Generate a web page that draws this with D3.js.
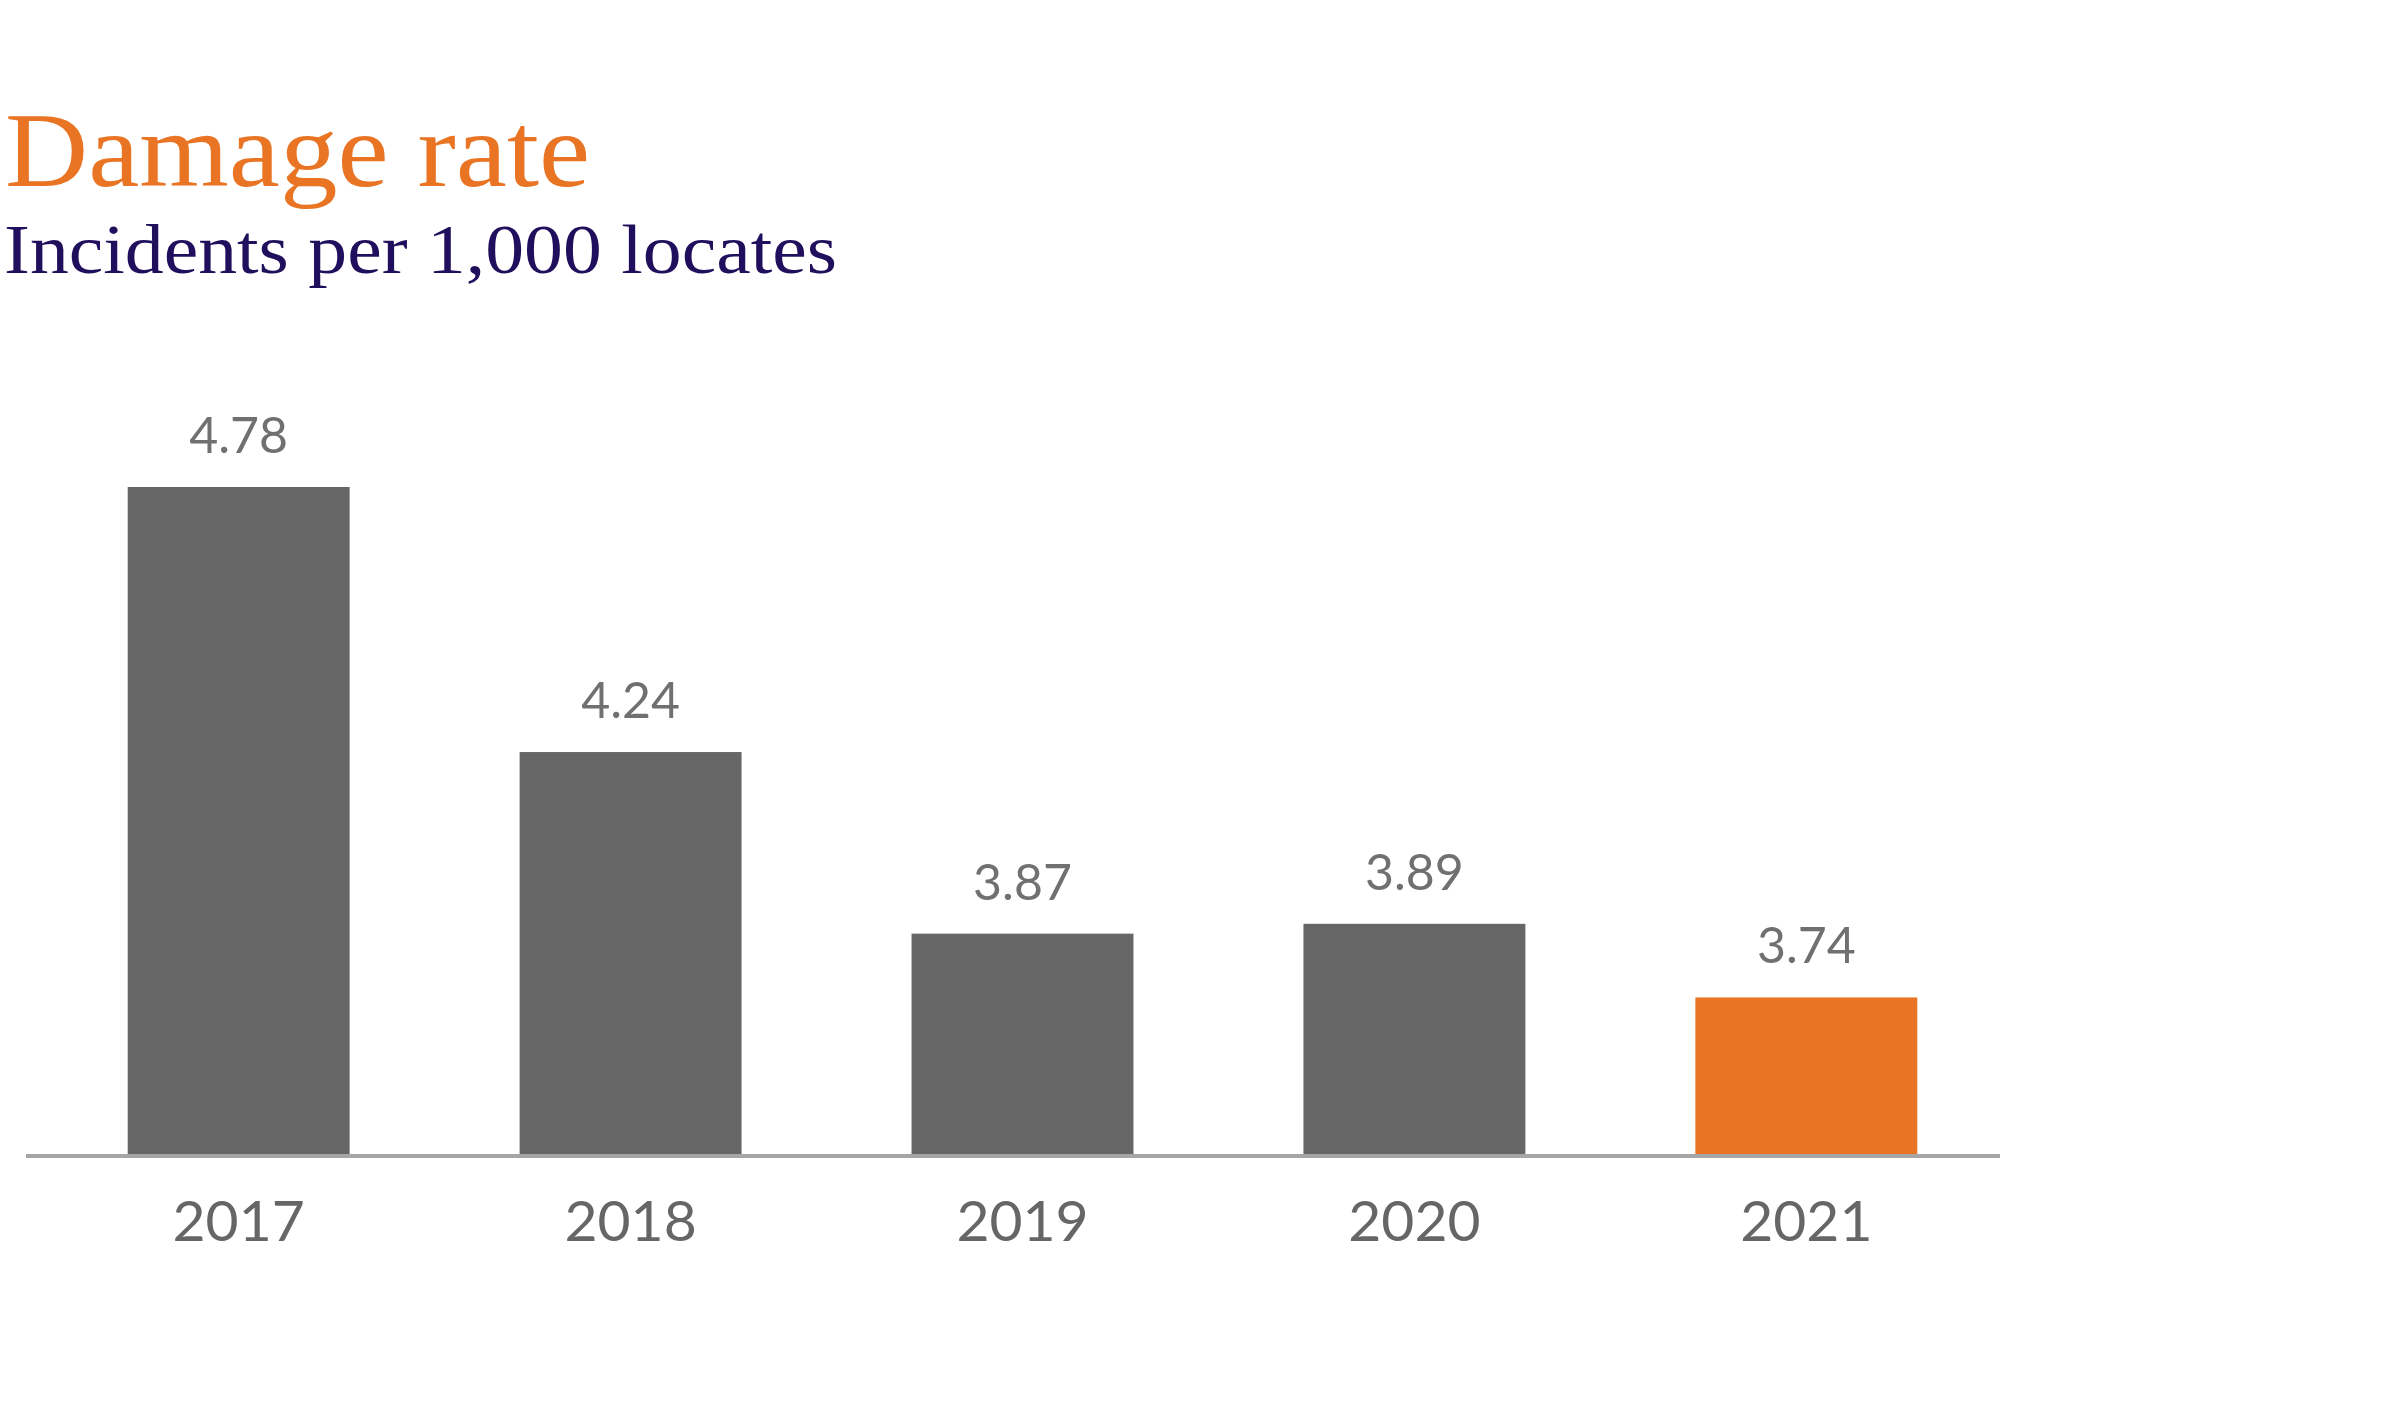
<!DOCTYPE html>
<html>
<head>
<meta charset="utf-8">
<script src="https://cdn.jsdelivr.net/npm/d3@7"></script>
<style>
  html, body { margin: 0; padding: 0; background: #ffffff; }
  svg { display: block; }
</style>
</head>
<body>
<svg id="chart" width="2397" height="1418"></svg>
<script>
const categories = ["2017", "2018", "2019", "2020", "2021"];
const values = [4.78, 4.24, 3.87, 3.89, 3.74];
const highlight = ["2021"];
const titleText = "Damage rate";
const subtitleText = "Incidents per 1,000 locates";

const svg = d3.select("#chart");
const W = 2397, H = 1418;
const baseY = 1155;

svg.append("rect").attr("width", W).attr("height", H).attr("fill", "#ffffff");

// Title & subtitle
svg.append("text")
  .attr("x", 5).attr("y", 186)
  .attr("font-family", "'Liberation Serif', 'DejaVu Serif', serif")
  .attr("font-size", 106)
  .attr("fill", "#E87424")
  .attr("textLength", 585)
  .attr("lengthAdjust", "spacingAndGlyphs")
  .text(titleText);

svg.append("text")
  .attr("x", 4).attr("y", 273)
  .attr("font-family", "'Liberation Serif', 'DejaVu Serif', serif")
  .attr("font-size", 70)
  .attr("fill", "#200F5C")
  .attr("textLength", 833)
  .attr("lengthAdjust", "spacingAndGlyphs")
  .text(subtitleText);

// Scales
const x = d3.scaleBand()
  .domain(categories)
  .range([36, 2009])
  .paddingInner(0.4337)
  .paddingOuter(0.234);

const y = d3.scaleLinear()
  .domain([3.419, 4.78])
  .range([baseY, 487]);

const data = categories.map((c, i) => ({ cat: c, val: values[i] }));

// Bars
svg.append("g").selectAll("rect")
  .data(data)
  .join("rect")
  .attr("x", d => x(d.cat))
  .attr("y", d => y(d.val))
  .attr("width", x.bandwidth())
  .attr("height", d => baseY - y(d.val))
  .attr("fill", d => highlight.includes(d.cat) ? "#E87424" : "#666666");

// Value labels
svg.append("g").selectAll("text")
  .data(data)
  .join("text")
  .attr("x", d => x(d.cat) + x.bandwidth() / 2)
  .attr("y", d => y(d.val) - 34)
  .attr("text-anchor", "middle")
  .attr("font-family", "Lato, 'Open Sans', sans-serif")
  .attr("font-size", 50)
  .attr("fill", "#707070")
  .text(d => d.val.toFixed(2));

// Axis
const axis = d3.axisBottom(x).tickSize(0).tickPadding(46);
const gAxis = svg.append("g")
  .attr("transform", `translate(0,${baseY})`)
  .call(axis);
gAxis.select(".domain").remove();
gAxis.append("line")
  .attr("x1", 26).attr("x2", 2000)
  .attr("y1", 1).attr("y2", 1)
  .attr("stroke", "#A6A6A6")
  .attr("stroke-width", 4);
gAxis.selectAll(".tick text")
  .attr("font-family", "Lato, 'Open Sans', sans-serif")
  .attr("font-size", 57)
  .attr("fill", "#666666")
  .attr("dy", "0.71em");
</script>
</body>
</html>
